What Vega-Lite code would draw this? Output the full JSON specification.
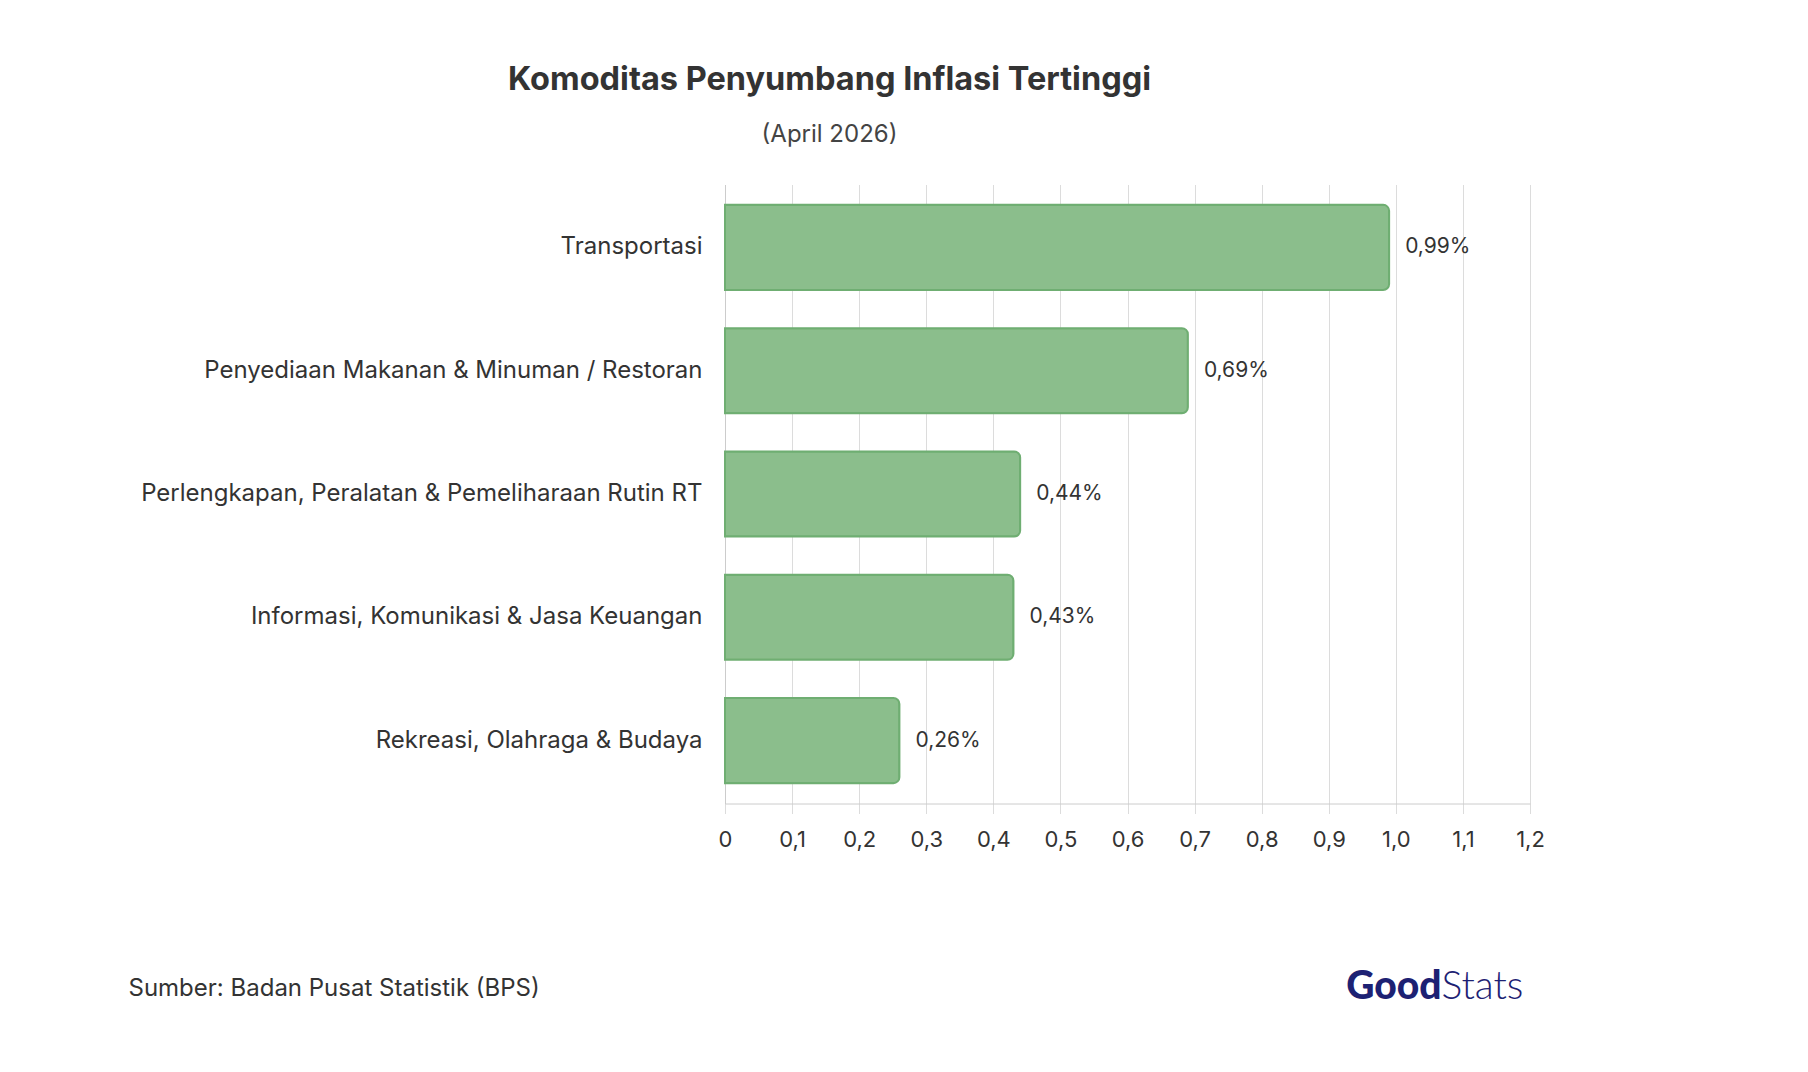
{
  "$schema": "https://vega.github.io/schema/vega-lite/v6.json",
  "width": 805,
  "height": 619,
  "autosize": "none",
  "padding": {"left": 725, "top": 184.5, "right": 278, "bottom": 268.5},
  "background": "white",
  "title": {
    "text": "Komoditas Penyumbang Inflasi Tertinggi",
    "subtitle": "(April 2026)",
    "anchor": "middle",
    "frame": "group",
    "dx": -298,
    "font": "Inter",
    "fontSize": 32.5,
    "fontWeight": 700,
    "color": "#333333",
    "subtitleFont": "Inter",
    "subtitleFontSize": 24,
    "subtitleColor": "#444444",
    "subtitlePadding": 26,
    "offset": 38
  },
  "config": {"view": {"stroke": null}, "font": "Inter"},
  "data": {
    "values": [
      {"kategori": "Transportasi", "nilai": 0.99, "label": "0,99%"},
      {"kategori": "Penyediaan Makanan & Minuman / Restoran", "nilai": 0.69, "label": "0,69%"},
      {"kategori": "Perlengkapan, Peralatan & Pemeliharaan Rutin RT", "nilai": 0.44, "label": "0,44%"},
      {"kategori": "Informasi, Komunikasi & Jasa Keuangan", "nilai": 0.43, "label": "0,43%"},
      {"kategori": "Rekreasi, Olahraga & Budaya", "nilai": 0.26, "label": "0,26%"}
    ]
  },
  "layer": [
    {
      "mark": {"type": "bar", "fill": "#8BBE8C", "stroke": "#6FAE72", "strokeWidth": 2, "cornerRadiusEnd": 6},
      "encoding": {
        "y": {
          "field": "kategori", "type": "nominal", "sort": null,
          "scale": {"paddingInner": 0.31, "paddingOuter": 0.165},
          "axis": {
            "orient": "left",
            "labelFont": "Inter", "labelFontSize": 24, "labelColor": "#333333", "labelPadding": 23, "labelLimit": 800,
            "ticks": false, "domain": true, "domainColor": "#cccccc", "grid": false,
            "title": "Good", "titleAngle": 0, "titleX": 716, "titleY": 813.5, "titleAlign": "right", "titleBaseline": "alphabetic",
            "titleFont": "Lato", "titleFontSize": 39, "titleFontWeight": 900, "titleColor": "#1D2173"
          }
        },
        "x": {
          "field": "nilai", "type": "quantitative",
          "scale": {"domain": [0, 1.2], "nice": false},
          "axis": {
            "values": [0, 0.1, 0.2, 0.3, 0.4, 0.5, 0.6, 0.7, 0.8, 0.9, 1.0, 1.1, 1.2],
            "labelExpr": "datum.value == 0 ? '0' : replace(format(datum.value, '.1f'), '.', ',')",
            "labelFlush": false,
            "grid": true, "gridColor": "#dcdcdc", "gridWidth": 1,
            "tickColor": "#dcdcdc", "tickSize": 10, "domainColor": "#cccccc",
            "labelFont": "Inter", "labelFontSize": 22, "labelColor": "#333333", "labelPadding": 16,
            "title": "Sumber: Badan Pusat Statistik (BPS)", "titleX": -597, "titleY": 185, "titleAlign": "left", "titleBaseline": "middle",
            "titleFont": "Inter", "titleFontSize": 24, "titleFontWeight": "normal", "titleColor": "#333333"
          }
        }
      }
    },
    {
      "mark": {"type": "text", "align": "left", "baseline": "middle", "dx": 16, "font": "Inter", "fontSize": 21, "color": "#333333"},
      "encoding": {
        "y": {
          "field": "kategori", "type": "nominal", "sort": null,
          "axis": {
            "orient": "right", "labels": false, "ticks": false, "domain": false, "grid": false,
            "title": "Stats", "titleAngle": 0, "titleX": -89, "titleY": 813.5, "titleAlign": "left", "titleBaseline": "alphabetic",
            "titleFont": "Lato", "titleFontSize": 39, "titleFontWeight": 300, "titleColor": "#1D2173"
          }
        },
        "x": {"field": "nilai", "type": "quantitative"},
        "text": {"field": "label"}
      }
    }
  ],
  "resolve": {"axis": {"y": "independent"}}
}
